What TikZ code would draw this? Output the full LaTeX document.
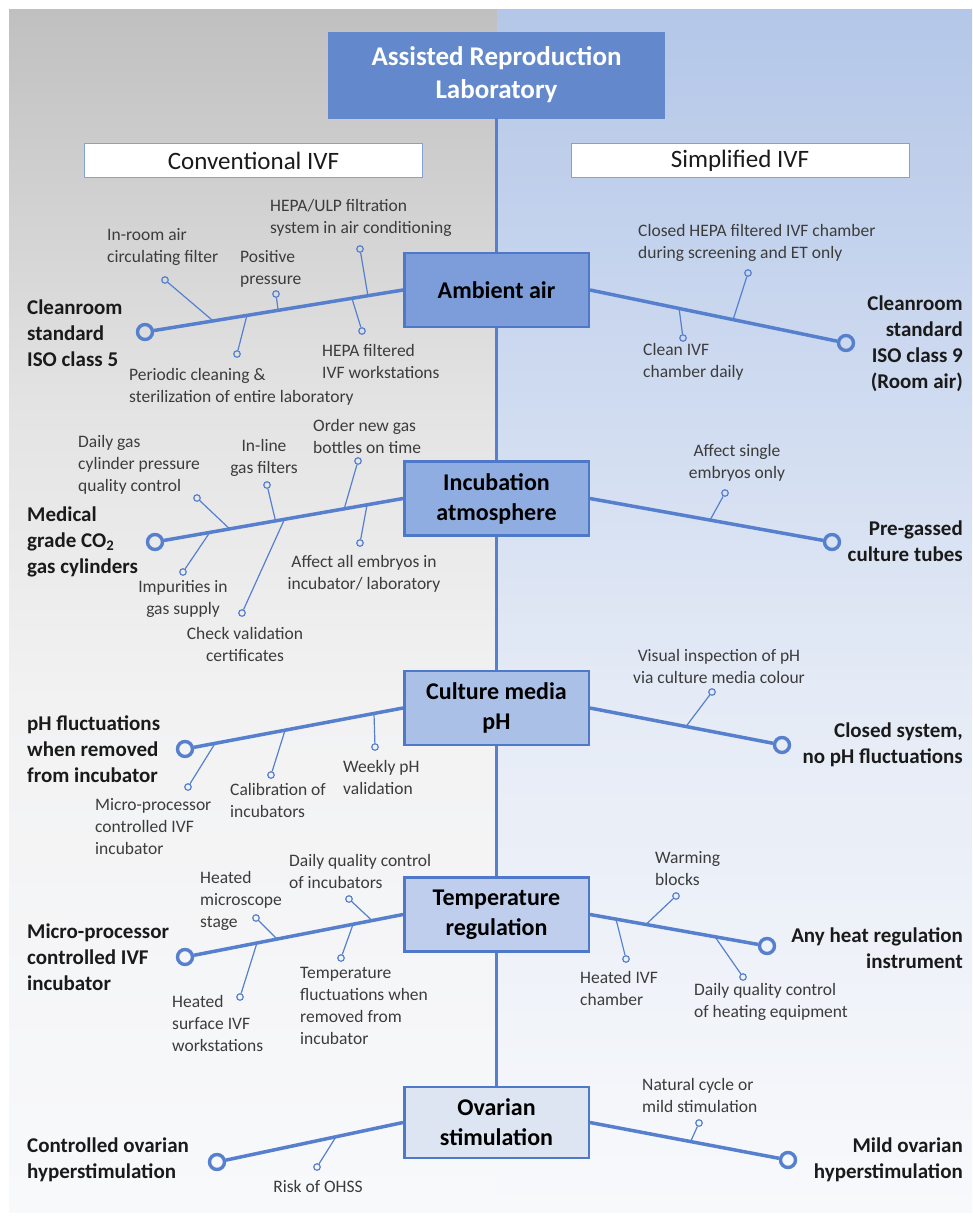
\documentclass[tikz,border=0pt]{standalone}
\usepackage{fontspec}
\setmainfont{Carlito}
\usetikzlibrary{calc}

\definecolor{convtop}{RGB}{192,192,192}
\definecolor{convup}{RGB}{227,227,228}
\definecolor{convmid}{RGB}{242,242,243}
\definecolor{simptop}{RGB}{180,199,232}
\definecolor{simpup}{RGB}{207,219,240}
\definecolor{simpmid}{RGB}{229,235,246}
\definecolor{panelbot}{RGB}{248,249,251}
\definecolor{linecol}{RGB}{86,128,206}
\definecolor{boxline}{RGB}{78,120,200}
\definecolor{labcol}{RGB}{99,137,204}
\definecolor{aircol}{RGB}{124,157,217}
\definecolor{incubcol}{RGB}{143,173,224}
\definecolor{mediacol}{RGB}{170,192,230}
\definecolor{tempcol}{RGB}{190,206,236}
\definecolor{ovarcol}{RGB}{221,229,243}
\definecolor{notetext}{RGB}{60,60,60}
\definecolor{goaltext}{RGB}{26,26,26}

\tikzset{
  headbox/.style={fill=labcol, draw=labcol, minimum width=336pt, minimum height=86pt,
    align=center, text=white, inner sep=0pt, font=\fontsize{27}{33}\selectfont\bfseries},
  sidebox/.style={fill=white, draw=boxline!70, line width=1pt, minimum width=338pt,
    minimum height=34pt, inner sep=0pt, text=goaltext, font=\fontsize{25}{30}\selectfont},
  topic/.style={draw=boxline, line width=2.5pt, minimum width=184.5pt, minimum height=74pt,
    align=center, inner sep=0pt, text=black, font=\fontsize{24}{30}\selectfont\bfseries},
  goal/.style={inner sep=0pt, text=goaltext, font=\fontsize{21}{26}\selectfont\bfseries},
  note/.style={inner sep=0pt, text=notetext, font=\fontsize{17.5}{22}\selectfont},
  endring/.style={circle, draw=linecol, line width=3.4pt, minimum size=15pt, inner sep=0pt},
  tip/.style={circle, draw=linecol, line width=1.2pt, minimum size=6.5pt, inner sep=0pt},
  spine/.style={draw=linecol, line width=3pt},
  stem/.style={draw=linecol, line width=3.5pt},
  twig/.style={draw=linecol, line width=1.2pt},
}

\begin{document}
\begin{tikzpicture}[x=1pt,y=-1pt]
  \useasboundingbox (0,0) rectangle (972,1218);
  \fill[white] (0,0) rectangle (972,1218);
  % the two halves, fading downwards
  \shade[top color=convtop, bottom color=convup] (9,9) rectangle (497,400);
  \shade[top color=convup, bottom color=convmid] (9,399.5) rectangle (497,700);
  \shade[top color=convmid, bottom color=panelbot] (9,699.5) rectangle (497,1212);
  \shade[top color=simptop, bottom color=simpup] (497,9) rectangle (972,400);
  \shade[top color=simpup, bottom color=simpmid] (497,399.5) rectangle (972,700);
  \shade[top color=simpmid, bottom color=panelbot] (497,699.5) rectangle (972,1212);

  % heading
  \node[headbox] (lab) at (496.5,75) {Assisted Reproduction\\Laboratory};
  \node[sidebox] (conv) at (253.5,160.5) {Conventional IVF};
  \node[sidebox] (simp) at (740,160.5) {Simplified IVF};

  % topics on the spine
  \node[topic, fill=aircol] (air) at (496.5,290) {Ambient air};
  \node[topic, fill=incubcol] (incub) at (496.5,498.5) {Incubation\\atmosphere};
  \node[topic, fill=mediacol] (media) at (496.5,708) {Culture media\\pH};
  \node[topic, fill=tempcol] (temp) at (496.5,914.5) {Temperature\\regulation};
  \node[topic, fill=ovarcol, minimum height=71pt] (ovar) at (496.5,1122.5) {Ovarian\\stimulation};
  \draw[spine] (lab.south) -- (air.north);
  \draw[spine] (air.south) -- (incub.north);
  \draw[spine] (incub.south) -- (media.north);
  \draw[spine] (media.south) -- (temp.north);
  \draw[spine] (temp.south) -- (ovar.north);

  % ambient air
  \node[endring] (airL) at (145,332) {};
  \node[endring] (airR) at (846,343) {};
  \draw[stem] (air.west) -- (airL);
  \draw[stem] (air.east) -- (airR);
  \node[goal, anchor=west, align=left] (airLg) at (27,333) {Cleanroom\\standard\\ISO class 5};
  \node[goal, anchor=east, align=right] (airRg) at (963,344) {Cleanroom\\standard\\ISO class 9\\(Room air)};
  \coordinate (a1) at ($(air.west)!0.736!(airL)$);
  \coordinate (a2) at ($(air.west)!0.484!(airL)$);
  \coordinate (a3) at ($(air.west)!0.136!(airL)$);
  \coordinate (a4) at ($(air.west)!0.198!(airL)$);
  \coordinate (a5) at ($(air.west)!0.605!(airL)$);
  \coordinate (a6) at ($(air.east)!0.559!(airR)$);
  \coordinate (a7) at ($(air.east)!0.348!(airR)$);
  \node[tip] (a1t) at (165,280) {};
  \node[tip] (a2t) at (276,294) {};
  \node[tip] (a3t) at (360,249) {};
  \node[tip] (a4t) at (362,331) {};
  \node[tip] (a5t) at (237,354) {};
  \node[tip] (a6t) at (748,273) {};
  \node[tip] (a7t) at (683,338) {};
  \draw[twig] (a1) -- (a1t);
  \draw[twig] (a2) -- (a2t);
  \draw[twig] (a3) -- (a3t);
  \draw[twig] (a4) -- (a4t);
  \draw[twig] (a5) -- (a5t);
  \draw[twig] (a6) -- (a6t);
  \draw[twig] (a7) -- (a7t);
  \node[note, anchor=west, align=left] (a1n) at (107,247) {In-room air\\circulating filter};
  \node[note, anchor=west, align=left] (a2n) at (240,269) {Positive\\pressure};
  \node[note, anchor=west, align=left] (a3n) at (270,218) {HEPA/ULP filtration\\system in air conditioning};
  \node[note, anchor=west, align=left] (a4n) at (322,361) {HEPA filtered\\IVF workstations};
  \node[note, anchor=west, align=left] (a5n) at (129,387) {Periodic cleaning \&\\sterilization of entire laboratory};
  \node[note, anchor=west, align=left] (a6n) at (638,243) {Closed HEPA filtered IVF chamber\\during screening and ET only};
  \node[note, anchor=west, align=left] (a7n) at (643,362) {Clean IVF\\chamber daily};

  % incubation atmosphere
  \node[endring] (incubL) at (155,542) {};
  \node[endring] (incubR) at (832,542) {};
  \draw[stem] (incub.west) -- (incubL);
  \draw[stem] (incub.east) -- (incubR);
  \node[goal, anchor=west, align=left] (incubLg) at (27,542) {Medical\\grade CO\textsubscript{2}\\gas cylinders};
  \node[goal, anchor=east, align=right] (incubRg) at (963,541) {Pre-gassed\\culture tubes};
  \coordinate (b1) at ($(incub.west)!0.699!(incubL)$);
  \coordinate (b2) at ($(incub.west)!0.514!(incubL)$);
  \coordinate (b3) at ($(incub.west)!0.237!(incubL)$);
  \coordinate (b4) at ($(incub.west)!0.145!(incubL)$);
  \coordinate (b5) at ($(incub.west)!0.779!(incubL)$);
  \coordinate (b6) at ($(incub.west)!0.478!(incubL)$);
  \coordinate (b7) at ($(incub.east)!0.496!(incubR)$);
  \node[tip] (b1t) at (197,498) {};
  \node[tip] (b2t) at (267,485) {};
  \node[tip] (b3t) at (358,461) {};
  \node[tip] (b4t) at (360,543) {};
  \node[tip] (b5t) at (183,572) {};
  \node[tip] (b6t) at (242,613) {};
  \node[tip] (b7t) at (725,493) {};
  \draw[twig] (b1) -- (b1t);
  \draw[twig] (b2) -- (b2t);
  \draw[twig] (b3) -- (b3t);
  \draw[twig] (b4) -- (b4t);
  \draw[twig] (b5) -- (b5t);
  \draw[twig] (b6) -- (b6t);
  \draw[twig] (b7) -- (b7t);
  \node[note, anchor=west, align=left] (b1n) at (78,465) {Daily gas\\cylinder pressure\\quality control};
  \node[note, align=center] (b2n) at (264,458) {In-line\\gas filters};
  \node[note, anchor=west, align=left] (b3n) at (313,436) {Order new gas\\bottles on time};
  \node[note, align=center] (b4n) at (364,574) {Affect all embryos in\\incubator/ laboratory};
  \node[note, align=center] (b5n) at (183,599) {Impurities in\\gas supply};
  \node[note, align=center] (b6n) at (245,644) {Check validation\\certificates};
  \node[note, align=center] (b7n) at (737,463) {Affect single\\embryos only};

  % culture media pH
  \node[endring] (mediaL) at (185,749) {};
  \node[endring] (mediaR) at (782,745) {};
  \draw[stem] (media.west) -- (mediaL);
  \draw[stem] (media.east) -- (mediaR);
  \node[goal, anchor=west, align=left] (mediaLg) at (27,749) {pH fluctuations\\when removed\\from incubator};
  \node[goal, anchor=east, align=right] (mediaRg) at (963,745) {Closed system,\\no pH fluctuations};
  \coordinate (c1) at ($(media.west)!0.862!(mediaL)$);
  \coordinate (c2) at ($(media.west)!0.541!(mediaL)$);
  \coordinate (c3) at ($(media.west)!0.133!(mediaL)$);
  \coordinate (c4) at ($(media.east)!0.5!(mediaR)$);
  \node[tip] (c1t) at (188,787) {};
  \node[tip] (c2t) at (271,775) {};
  \node[tip] (c3t) at (375,747) {};
  \node[tip] (c4t) at (712,692) {};
  \draw[twig] (c1) -- (c1t);
  \draw[twig] (c2) -- (c2t);
  \draw[twig] (c3) -- (c3t);
  \draw[twig] (c4) -- (c4t);
  \node[note, anchor=west, align=left] (c1n) at (95,827) {Micro-processor\\controlled IVF\\incubator};
  \node[note, anchor=west, align=left] (c2n) at (230,800) {Calibration of\\incubators};
  \node[note, anchor=west, align=left] (c3n) at (343,777) {Weekly pH\\validation};
  \node[note, align=center] (c4n) at (719,666) {Visual inspection of pH\\via culture media colour};

  % temperature regulation
  \node[endring] (tempL) at (185,957) {};
  \node[endring] (tempR) at (767,946) {};
  \draw[stem] (temp.west) -- (tempL);
  \draw[stem] (temp.east) -- (tempR);
  \node[goal, anchor=west, align=left] (tempLg) at (27,957) {Micro-processor\\controlled IVF\\incubator};
  \node[goal, anchor=east, align=right] (tempRg) at (963,948) {Any heat regulation\\instrument};
  \coordinate (d1) at ($(temp.west)!0.578!(tempL)$);
  \coordinate (d2) at ($(temp.west)!0.142!(tempL)$);
  \coordinate (d3) at ($(temp.west)!0.670!(tempL)$);
  \coordinate (d4) at ($(temp.west)!0.229!(tempL)$);
  \coordinate (d5) at ($(temp.east)!0.316!(tempR)$);
  \coordinate (d6) at ($(temp.east)!0.147!(tempR)$);
  \coordinate (d7) at ($(temp.east)!0.706!(tempR)$);
  \node[tip] (d1t) at (256,918) {};
  \node[tip] (d2t) at (349,899) {};
  \node[tip] (d3t) at (240,997) {};
  \node[tip] (d4t) at (341,958) {};
  \node[tip] (d5t) at (676,896) {};
  \node[tip] (d6t) at (626,959) {};
  \node[tip] (d7t) at (743,977) {};
  \draw[twig] (d1) -- (d1t);
  \draw[twig] (d2) -- (d2t);
  \draw[twig] (d3) -- (d3t);
  \draw[twig] (d4) -- (d4t);
  \draw[twig] (d5) -- (d5t);
  \draw[twig] (d6) -- (d6t);
  \draw[twig] (d7) -- (d7t);
  \node[note, anchor=west, align=left] (d1n) at (200,901) {Heated\\microscope\\stage};
  \node[note, anchor=west, align=left] (d2n) at (289,871) {Daily quality control\\of incubators};
  \node[note, anchor=west, align=left] (d3n) at (172,1023) {Heated\\surface IVF\\workstations};
  \node[note, anchor=west, align=left] (d4n) at (300,1006) {Temperature\\fluctuations when\\removed from\\incubator};
  \node[note, anchor=west, align=left] (d5n) at (655,869) {Warming\\blocks};
  \node[note, anchor=west, align=left] (d6n) at (580,988) {Heated IVF\\chamber};
  \node[note, anchor=west, align=left] (d7n) at (694,1002) {Daily quality control\\of heating equipment};

  % ovarian stimulation
  \node[endring] (ovarL) at (217,1162) {};
  \node[endring] (ovarR) at (788,1160) {};
  \draw[stem] (ovar.west) -- (ovarL);
  \draw[stem] (ovar.east) -- (ovarR);
  \node[goal, anchor=west, align=left] (ovarLg) at (27,1160) {Controlled ovarian\\hyperstimulation};
  \node[goal, anchor=east, align=right] (ovarRg) at (963,1160) {Mild ovarian\\hyperstimulation};
  \coordinate (e1) at ($(ovar.west)!0.36!(ovarL)$);
  \coordinate (e2) at ($(ovar.east)!0.508!(ovarR)$);
  \node[tip] (e1t) at (317,1167) {};
  \node[tip] (e2t) at (699,1123) {};
  \draw[twig] (e1) -- (e1t);
  \draw[twig] (e2) -- (e2t);
  \node[note] (e1n) at (318,1186) {Risk of OHSS};
  \node[note, anchor=west, align=left] (e2n) at (642,1095) {Natural cycle or\\mild stimulation};
\end{tikzpicture}
\end{document}
